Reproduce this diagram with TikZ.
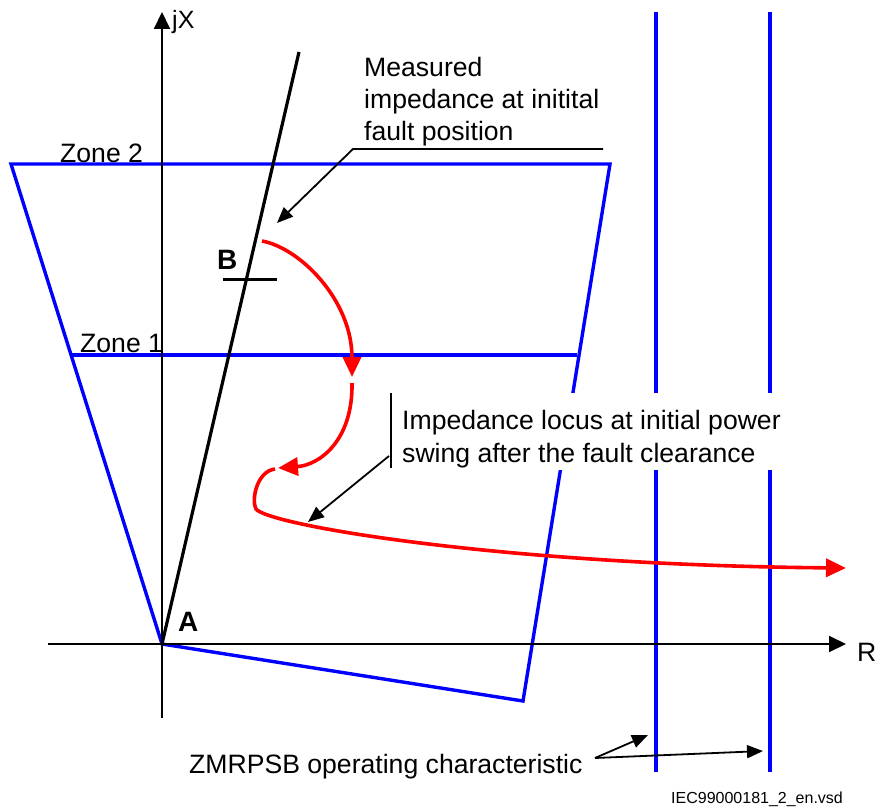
\documentclass[tikz,border=0pt]{standalone}
\usepackage{fontspec}
\setmainfont{Liberation Sans}
\usetikzlibrary{arrows.meta}
\definecolor{zblue}{RGB}{0,0,255}
\definecolor{zred}{RGB}{255,0,0}
\begin{document}
\begin{tikzpicture}[x=1pt,y=-1pt,
  zone/.style={draw=zblue, line width=3.4pt, line join=miter},
  axis/.style={line width=2pt, -{Triangle[length=17pt,width=16pt]}},
  locus/.style={draw=zred, line width=3.6pt},
  redtip/.style={-{Triangle[length=20pt,width=18pt]}},
  leader/.style={line width=1.8pt},
  leadarrow/.style={line width=1.8pt, -{Triangle[length=16pt,width=13pt]}},
  lbl/.style={font=\fontsize{26.6}{32}\selectfont, inner sep=0pt},
  boldlbl/.style={font=\fontsize{28}{32}\selectfont\bfseries, inner sep=0pt}]
\useasboundingbox (0,0) rectangle (878,808);

% coordinates
\coordinate (O) at (162,644);
\coordinate (Ytop) at (162,12);
\coordinate (Ybot) at (162,718);
\coordinate (Xleft) at (48,644);
\coordinate (Xright) at (846,644);
\coordinate (Ftop) at (299,52);
\coordinate (Bl) at (223,279);
\coordinate (Br) at (277,279);
\coordinate (Z2l) at (11,164);
\coordinate (Z2r) at (610,164);
\coordinate (Zbr) at (523,701);
\coordinate (Z1l) at (71,355);
\coordinate (Z1r) at (577,355);
\coordinate (V1t) at (656,12);
\coordinate (V1b) at (656,772);
\coordinate (V2t) at (770,12);
\coordinate (V2b) at (770,772);

% zone characteristic
\draw[zone] (Z2l) -- (Z2r) -- (Zbr) -- (O) -- cycle;
\draw[zone] (Z1l) -- (Z1r);
\draw[zone] (V1t) -- (V1b);
\draw[zone] (V2t) -- (V2b);

% axes
\draw[axis] (Ybot) -- (Ytop);
\draw[axis] (Xleft) -- (Xright);

% fault line
\draw[line width=3.2pt] (O) -- (Ftop);
\draw[line width=3pt] (Bl) -- (Br);

% mask behind the lower annotation
\fill[white] (396,393) rectangle (790,470);

% red impedance locus
\draw[locus,redtip] (262,241) .. controls (300,248) and (352,300) .. (352,377);
\draw[locus,redtip] (352,383) .. controls (353,440) and (320,465) .. (278,468);
\draw[locus,redtip] (275,469) .. controls (257,471) and (251,500) .. (256,509)
   .. controls (268,525) and (500,565) .. (846,568);

% labels
\node[lbl, font=\fontsize{25}{30}\selectfont, anchor=base west] (jx) at (172,29) {jX};
\node[lbl, anchor=base west] (r) at (857,661) {R};
\node[lbl, anchor=base west] (z2) at (60,162) {Zone 2};
\node[lbl, anchor=base west] (z1) at (80,352) {Zone 1};
\node[boldlbl, anchor=base west] (b) at (217,269) {B};
\node[boldlbl, anchor=base west] (a) at (178,631) {A};
\node[lbl, anchor=north west, align=left] (meas) at (364,57)
  {Measured\\impedance at initital\\fault position};
\node[lbl, anchor=north west, align=left, font=\fontsize{26.6}{33}\selectfont] (locusl) at (402,410)
  {Impedance locus at initial power\\swing after the fault clearance};
\node[lbl, anchor=base west] (zmr) at (189,773) {ZMRPSB operating characteristic};
\node[inner sep=0pt, font=\fontsize{16}{18}\selectfont, anchor=base west] (iec) at (671,803) {IEC99000181\_2\_en.vsd};

% annotation leaders
\coordinate (M1) at (603,149);
\coordinate (M2) at (353,149);
\coordinate (Mt) at (277,223);
\draw[leadarrow] (M1) -- (M2) -- (Mt);
\coordinate (L1) at (391,393);
\coordinate (L2) at (391,468);
\coordinate (L3) at (389,456);
\coordinate (Lt) at (308,522);
\draw[leader] (L1) -- (L2);
\draw[leadarrow] (L3) -- (Lt);
\coordinate (Z0) at (595,758);
\coordinate (Zt1) at (648,735);
\coordinate (Zt2) at (763,751);
\draw[leadarrow] (Z0) -- (Zt1);
\draw[leadarrow] (Z0) -- (Zt2);
\end{tikzpicture}
\end{document}
